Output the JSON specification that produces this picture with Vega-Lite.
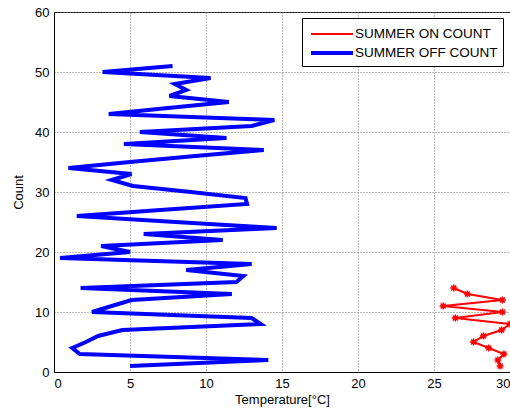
{
  "$schema": "https://vega.github.io/schema/vega-lite/v6.json",
  "width": 456,
  "height": 360,
  "autosize": "none",
  "padding": {"left": 54, "top": 12, "right": 0, "bottom": 38},
  "background": "white",
  "config": {
    "font": "Liberation Sans",
    "view": {"stroke": "black", "strokeWidth": 1},
    "axis": {
      "domainColor": "black",
      "labelColor": "black",
      "titleColor": "black",
      "labelFontSize": 13,
      "titleFontSize": 13,
      "titleFontWeight": "normal",
      "gridColor": "#777777",
      "gridDash": [1, 2],
      "gridOpacity": 1,
      "ticks": false,
      "labelPadding": 5
    },
    "legend": {
      "title": null,
      "orient": "none",
      "legendX": 248,
      "legendY": 6,
      "symbolType": "M-2.1,0L2.1,0",
      "symbolSize": 400,
      "symbolOffset": 13,
      "labelFontSize": 13.5,
      "labelColor": "black",
      "fillColor": "white",
      "strokeColor": "black",
      "padding": 5,
      "rowPadding": 0,
      "labelOffset": 11
    }
  },
  "data": {
    "values": [
      {"series": "SUMMER OFF COUNT", "count": 1, "temp": 5.0},
      {"series": "SUMMER OFF COUNT", "count": 2, "temp": 14.1},
      {"series": "SUMMER OFF COUNT", "count": 3, "temp": 1.7},
      {"series": "SUMMER OFF COUNT", "count": 4, "temp": 1.2},
      {"series": "SUMMER OFF COUNT", "count": 5, "temp": 2.1},
      {"series": "SUMMER OFF COUNT", "count": 6, "temp": 2.9},
      {"series": "SUMMER OFF COUNT", "count": 7, "temp": 4.5},
      {"series": "SUMMER OFF COUNT", "count": 8, "temp": 13.6},
      {"series": "SUMMER OFF COUNT", "count": 9, "temp": 13.0},
      {"series": "SUMMER OFF COUNT", "count": 10, "temp": 2.5},
      {"series": "SUMMER OFF COUNT", "count": 11, "temp": 3.8},
      {"series": "SUMMER OFF COUNT", "count": 12, "temp": 5.1},
      {"series": "SUMMER OFF COUNT", "count": 13, "temp": 11.7},
      {"series": "SUMMER OFF COUNT", "count": 14, "temp": 1.75},
      {"series": "SUMMER OFF COUNT", "count": 15, "temp": 12.0},
      {"series": "SUMMER OFF COUNT", "count": 16, "temp": 12.45},
      {"series": "SUMMER OFF COUNT", "count": 17, "temp": 8.7},
      {"series": "SUMMER OFF COUNT", "count": 18, "temp": 13.0},
      {"series": "SUMMER OFF COUNT", "count": 19, "temp": 0.4},
      {"series": "SUMMER OFF COUNT", "count": 20, "temp": 5.0},
      {"series": "SUMMER OFF COUNT", "count": 21, "temp": 3.1},
      {"series": "SUMMER OFF COUNT", "count": 22, "temp": 11.1},
      {"series": "SUMMER OFF COUNT", "count": 23, "temp": 5.9},
      {"series": "SUMMER OFF COUNT", "count": 24, "temp": 14.65},
      {"series": "SUMMER OFF COUNT", "count": 25, "temp": 8.0},
      {"series": "SUMMER OFF COUNT", "count": 26, "temp": 1.5},
      {"series": "SUMMER OFF COUNT", "count": 27, "temp": 7.0},
      {"series": "SUMMER OFF COUNT", "count": 28, "temp": 12.7},
      {"series": "SUMMER OFF COUNT", "count": 29, "temp": 12.6},
      {"series": "SUMMER OFF COUNT", "count": 30, "temp": 9.0},
      {"series": "SUMMER OFF COUNT", "count": 31, "temp": 5.2},
      {"series": "SUMMER OFF COUNT", "count": 32, "temp": 3.8},
      {"series": "SUMMER OFF COUNT", "count": 33, "temp": 5.1},
      {"series": "SUMMER OFF COUNT", "count": 34, "temp": 0.95},
      {"series": "SUMMER OFF COUNT", "count": 35, "temp": 5.0},
      {"series": "SUMMER OFF COUNT", "count": 36, "temp": 9.3},
      {"series": "SUMMER OFF COUNT", "count": 37, "temp": 13.8},
      {"series": "SUMMER OFF COUNT", "count": 38, "temp": 4.6},
      {"series": "SUMMER OFF COUNT", "count": 39, "temp": 11.35},
      {"series": "SUMMER OFF COUNT", "count": 40, "temp": 5.65},
      {"series": "SUMMER OFF COUNT", "count": 41, "temp": 13.0},
      {"series": "SUMMER OFF COUNT", "count": 42, "temp": 14.5},
      {"series": "SUMMER OFF COUNT", "count": 43, "temp": 3.6},
      {"series": "SUMMER OFF COUNT", "count": 44, "temp": 7.5},
      {"series": "SUMMER OFF COUNT", "count": 45, "temp": 11.5},
      {"series": "SUMMER OFF COUNT", "count": 46, "temp": 7.6},
      {"series": "SUMMER OFF COUNT", "count": 47, "temp": 8.7},
      {"series": "SUMMER OFF COUNT", "count": 48, "temp": 7.95},
      {"series": "SUMMER OFF COUNT", "count": 49, "temp": 10.3},
      {"series": "SUMMER OFF COUNT", "count": 50, "temp": 3.2},
      {"series": "SUMMER OFF COUNT", "count": 51, "temp": 7.8},
      {"series": "SUMMER ON COUNT", "count": 1, "temp": 29.35},
      {"series": "SUMMER ON COUNT", "count": 2, "temp": 29.2},
      {"series": "SUMMER ON COUNT", "count": 3, "temp": 29.6},
      {"series": "SUMMER ON COUNT", "count": 4, "temp": 28.6},
      {"series": "SUMMER ON COUNT", "count": 5, "temp": 27.6},
      {"series": "SUMMER ON COUNT", "count": 6, "temp": 28.25},
      {"series": "SUMMER ON COUNT", "count": 7, "temp": 29.45},
      {"series": "SUMMER ON COUNT", "count": 8, "temp": 30.0},
      {"series": "SUMMER ON COUNT", "count": 9, "temp": 26.4},
      {"series": "SUMMER ON COUNT", "count": 10, "temp": 29.5},
      {"series": "SUMMER ON COUNT", "count": 11, "temp": 25.6},
      {"series": "SUMMER ON COUNT", "count": 12, "temp": 29.5},
      {"series": "SUMMER ON COUNT", "count": 13, "temp": 27.2},
      {"series": "SUMMER ON COUNT", "count": 14, "temp": 26.3}
    ]
  },
  "encoding": {
    "x": {
      "field": "temp",
      "type": "quantitative",
      "title": "Temperature[°C]",
      "scale": {"domain": [0, 30], "nice": false},
      "axis": {"values": [0, 5, 10, 15, 20, 25, 30], "titlePadding": 3}
    },
    "y": {
      "field": "count",
      "type": "quantitative",
      "title": "Count",
      "scale": {"domain": [0, 60], "nice": false},
      "axis": {"values": [0, 10, 20, 30, 40, 50, 60], "titlePadding": 9}
    }
  },
  "layer": [
    {
      "mark": {"type": "line", "clip": false},
      "encoding": {
        "order": {"field": "count"},
        "color": {
          "field": "series",
          "type": "nominal",
          "scale": {"domain": ["SUMMER ON COUNT", "SUMMER OFF COUNT"], "range": ["#ff0000", "#0000ff"]}
        },
        "strokeWidth": {
          "field": "series",
          "type": "nominal",
          "scale": {"domain": ["SUMMER ON COUNT", "SUMMER OFF COUNT"], "range": [2, 4]}
        }
      }
    },
    {
      "transform": [{"filter": "datum.series === 'SUMMER ON COUNT'"}],
      "mark": {
        "type": "point",
        "shape": "M-1,0L1,0M0,-1L0,1M-0.7,-0.7L0.7,0.7M-0.7,0.7L0.7,-0.7",
        "filled": false,
        "stroke": "#ff0000",
        "strokeWidth": 1.5,
        "size": 50,
        "opacity": 1,
        "clip": false
      }
    }
  ]
}
